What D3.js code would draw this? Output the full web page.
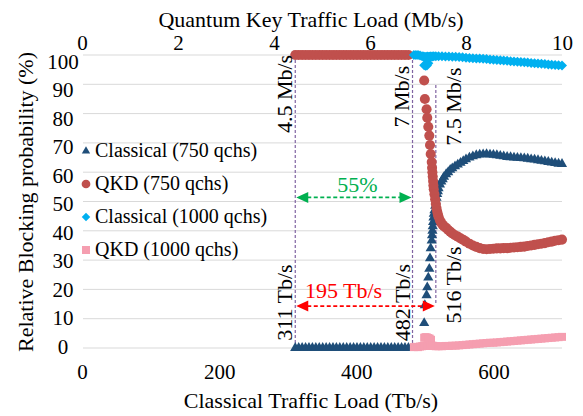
<!DOCTYPE html>
<html>
<head>
<meta charset="utf-8">
<script src="https://cdn.jsdelivr.net/npm/d3@7"></script>
<style>
  body { margin: 0; background: #fff; }
  svg text { font-family: "Liberation Serif", "DejaVu Serif", "Times New Roman", Times, serif !important; fill: #000; }
</style>
</head>
<body>
<script>
// Classical traffic load (Tb/s) for the 750-qchs runs
var loads750 = [311, 316, 321, 326, 331, 336, 341, 346, 351, 356, 361, 366, 371, 376, 381, 386, 391,
  396, 401, 406, 411, 416, 421, 426, 431, 436, 441, 446, 451, 456, 461, 466, 471, 476,
  499, 500, 502.5, 503.5, 505, 506.5, 507.5, 508.5, 510,
  510.5, 511, 511.5, 512, 512.5, 513,
  514, 515, 516, 517, 518, 519, 520,
  522, 524, 526, 528, 531, 534, 537, 540, 544, 548, 552, 556, 560,
  565, 570, 575, 580, 585, 590, 595, 600, 605, 610, 615, 620, 625, 630, 635, 640,
  645, 650, 655, 660, 665, 670, 675, 680, 685, 690, 695, 700];
var classical750 = [0, 0, 0, 0, 0, 0, 0, 0, 0, 0, 0, 0, 0, 0, 0, 0, 0,
  0, 0, 0, 0, 0, 0, 0, 0, 0, 0, 0, 0, 0, 0, 0, 0, 0,
  8.5, 14.6, 18, 20.7, 24, 27, 30.6, 34, 36.7,
  38.5, 40, 41.5, 43, 44.5, 45.8,
  47, 48.5, 50, 51.3, 52.5, 53.5, 54.5,
  55.8, 56.8, 57.6, 58.4, 59.3, 60, 60.8, 61.3, 62, 62.6, 63.2, 63.8, 64.4,
  65, 65.4, 65.8, 66, 66.1, 66.2, 66, 65.9, 65.8, 65.6, 65.4, 65.2, 65.1, 65, 64.9, 64.8,
  64.7, 64.6, 64.4, 64.3, 64.1, 63.9, 63.7, 63.5, 63.3, 63.1, 62.9, 62.8];
var qkd750 = [100, 100, 100, 100, 100, 100, 100, 100, 100, 100, 100, 100, 100, 100, 100, 100, 100,
  100, 100, 100, 100, 100, 100, 100, 100, 100, 100, 100, 100, 100, 100, 100, 100, 100,
  91.3, 85, 81.5, 78.6, 75.5, 72.5, 69.3, 66.2, 63.5,
  61.5, 60, 58.5, 57, 55.5, 54.2,
  52.5, 50.8, 49.2, 47.8, 46.6, 45.6, 44.8,
  43.6, 42.7, 42, 41.5, 41, 40.3, 39.7, 39.1, 38.5, 38, 37.4, 36.9, 36.3,
  35.6, 35, 34.5, 34.1, 33.8, 33.7, 33.8, 33.9, 34, 34, 34.1, 34.1, 34.2, 34.3, 34.4, 34.5,
  34.6, 34.8, 35, 35.2, 35.4, 35.6, 35.8, 36.1, 36.3, 36.6, 36.8, 37];

// Classical traffic load (Tb/s) for the 1000-qchs runs
var loads1000 = [484, 487, 490, 493, 496,
  498, 499, 500, 501, 502, 503, 504, 505, 506, 507, 508, 509,
  511, 513, 516,
  520, 525, 530, 535, 540, 545, 550, 555, 560, 565, 570, 575, 580, 585, 590, 595, 600,
  605, 610, 615, 620, 625, 630, 635, 640, 645, 650, 655, 660, 665, 670, 675, 680, 685,
  690, 695, 700];
var classical1000 = [100, 100, 100, 99.8, 99.6,
  99.5, 96.5, 99.4, 96.3, 99.4, 96.4, 99.5, 97.2, 99.4, 99.4, 99.5, 99.5,
  99.5, 99.6, 99.6,
  99.6, 99.6, 99.5, 99.5, 99.4, 99.4, 99.3, 99.2, 99.1, 99, 98.9, 98.8, 98.8, 98.7, 98.6, 98.5, 98.4,
  98.3, 98.2, 98.1, 98, 97.9, 97.8, 97.7, 97.6, 97.5, 97.4, 97.3, 97.2, 97.1, 97, 96.9, 96.8, 96.7,
  96.6, 96.5, 96.4];
var qkd1000 = [0.3, 0.4, 0.3, 0.5, 0.6,
  0.7, 3.5, 0.8, 3.7, 0.8, 3.6, 0.7, 3.4, 0.8, 3.2, 0.7, 2.8,
  0.8, 0.7, 0.6,
  0.6, 0.6, 0.7, 0.7, 0.8, 0.8, 0.9, 1, 1.1, 1.2, 1.3, 1.4, 1.5, 1.6, 1.7, 1.8, 1.8,
  1.9, 2, 2.1, 2.2, 2.3, 2.4, 2.5, 2.6, 2.7, 2.8, 2.9, 3, 3.1, 3.2, 3.3, 3.4, 3.5,
  3.6, 3.7, 3.8];

var seriesNames = ["Classical (750 qchs)", "QKD (750 qchs)", "Classical (1000 qchs)", "QKD (1000 qchs)"];
var seriesColors = ["#1F4E79", "#C0504D", "#00B0F0", "#F59EB0"];

var bottomTicks = [0, 200, 400, 600];
var topTicks = [0, 2, 4, 6, 8, 10];
var yTicks = [0, 10, 20, 30, 40, 50, 60, 70, 80, 90, 100];

// threshold markers
var markLoads = [311, 482, 516];
var markTb = ["311 Tb/s", "482 Tb/s", "516 Tb/s"];
var markMb = ["4.5 Mb/s", "7 Mb/s", "7.5 Mb/s"];
var markTop = [98.3, 98.3, 89.8];
var markBottom = [1.7, 1.7, 15.4];

var width = 583, height = 416;
var serif = '"Liberation Serif", "DejaVu Serif", "Times New Roman", Times, serif';

var svg = d3.select("body").append("svg")
  .attr("width", width)
  .attr("height", height)
  .attr("font-family", serif);

var x = d3.scaleLinear().domain([0, 700]).range([82, 562]);
var xTop = d3.scaleLinear().domain([0, 10]).range([82, 562]);
var y = d3.scaleLinear().domain([0, 100]).range([348, 55]);
var yLab = d3.scaleLinear().domain([0, 100]).range([346.5, 61.5]);

// gridlines
svg.append("g").selectAll("line")
  .data(yTicks)
  .enter().append("line")
    .attr("x1", 83).attr("x2", 562)
    .attr("y1", function (d) { return y(d); })
    .attr("y2", function (d) { return y(d); })
    .style("stroke", "#d9d9d9")
    .style("stroke-width", 1);

// axes (labels only)
var yAxis = svg.append("g")
  .attr("transform", "translate(63,0)")
  .call(d3.axisLeft(yLab).tickValues(yTicks).tickSize(0).tickPadding(0));
yAxis.attr("font-family", serif).attr("font-size", 21);
yAxis.select(".domain").remove();
yAxis.selectAll("text")
  .attr("x", 0)
  .style("text-anchor", "middle");

var xAxis = svg.append("g")
  .attr("transform", "translate(0,379)")
  .call(d3.axisBottom(x).tickValues(bottomTicks).tickSize(0).tickPadding(0));
xAxis.attr("font-family", serif).attr("font-size", 21);
xAxis.select(".domain").remove();
xAxis.selectAll("text").attr("y", 0).attr("dy", 0);

var xAxisTop = svg.append("g")
  .attr("transform", "translate(0,50)")
  .call(d3.axisTop(xTop).tickValues(topTicks).tickSize(0).tickPadding(0));
xAxisTop.attr("font-family", serif).attr("font-size", 21);
xAxisTop.select(".domain").remove();
xAxisTop.selectAll("text").attr("y", 0).attr("dy", 0);

// axis titles
svg.append("text")
  .attr("x", 311).attr("y", 408)
  .attr("text-anchor", "middle")
  .style("font-size", "22px")
  .text("Classical Traffic Load (Tb/s)");

svg.append("text")
  .attr("x", 311).attr("y", 27)
  .attr("text-anchor", "middle")
  .style("font-size", "22px")
  .text("Quantum Key Traffic Load (Mb/s)");

svg.append("text")
  .attr("transform", "translate(33,202) rotate(-90)")
  .attr("text-anchor", "middle")
  .style("font-size", "22px")
  .text("Relative Blocking probability (%)");

// threshold dashed lines
var marks = svg.append("g").attr("class", "marks");
markLoads.forEach(function (m, i) {
  marks.append("line")
    .attr("x1", x(m)).attr("x2", x(m))
    .attr("y1", y(markTop[i])).attr("y2", y(markBottom[i]))
    .style("stroke", "#8064A2")
    .style("stroke-width", 1.2)
    .style("stroke-dasharray", "3,2");
});

// series
var symTri = d3.symbol().type(d3.symbolTriangle);
var symCircle = d3.symbol().type(d3.symbolCircle);
var symSquare = d3.symbol().type(d3.symbolSquare);

function drawSeries(loads, vals, color, path, rot) {
  var pts = loads.map(function (l, i) { return [l, vals[i]]; });
  svg.append("g").selectAll("path")
    .data(pts)
    .enter().append("path")
      .attr("d", path)
      .attr("transform", function (d) {
        return "translate(" + x(d[0]) + "," + y(d[1]) + ")" + (rot ? " rotate(45)" : "");
      })
      .style("fill", color);
}

drawSeries(loads750, classical750, seriesColors[0], symTri.size(45)());
drawSeries(loads750, qkd750, seriesColors[1], symCircle.size(80)());
drawSeries(loads1000, classical1000, seriesColors[2], symSquare.size(50)(), true);
drawSeries(loads1000, qkd1000, seriesColors[3], symSquare.size(64)());

// rotated threshold labels
var mbOffset = [-3, -4, 25];
var mbCenter = [86.7, 85.8, 82.4];
var tbOffset = [-3, -3, 25];
var tbCenter = [15.5, 15.5, 21.5];
markLoads.forEach(function (m, i) {
  svg.append("text")
    .attr("transform", "translate(" + (x(m) + mbOffset[i]) + "," + y(mbCenter[i]) + ") rotate(-90)")
    .attr("text-anchor", "middle")
    .style("font-size", "22px")
    .text(markMb[i]);
  svg.append("text")
    .attr("transform", "translate(" + (x(m) + tbOffset[i]) + "," + y(tbCenter[i]) + ") rotate(-90)")
    .attr("text-anchor", "middle")
    .style("font-size", "22px")
    .text(markTb[i]);
});

// double-headed arrows
function arrow(from, to, level, color, label, labelX, labelLevel) {
  var x0 = x(from) + 1, x1 = x(to) - 1, yy = y(level);
  var hl = 12, hw = 5.5;
  svg.append("line")
    .attr("x1", x0 + hl - 1).attr("x2", x1 - hl + 1)
    .attr("y1", yy).attr("y2", yy)
    .style("stroke", color)
    .style("stroke-width", 1.6)
    .style("stroke-dasharray", "4,2.5");
  svg.append("path")
    .attr("d", "M" + x0 + "," + yy + "L" + (x0 + hl) + "," + (yy - hw) + "L" + (x0 + hl) + "," + (yy + hw) + "Z")
    .style("fill", color);
  svg.append("path")
    .attr("d", "M" + x1 + "," + yy + "L" + (x1 - hl) + "," + (yy - hw) + "L" + (x1 - hl) + "," + (yy + hw) + "Z")
    .style("fill", color);
  svg.append("text")
    .attr("x", labelX).attr("y", y(labelLevel))
    .attr("text-anchor", "middle")
    .style("font-size", "22px")
    .style("fill", color)
    .text(label);
}

arrow(311, 482, 51.4, "#00B050", "55%", 357.5, 53.4);
arrow(311, 516, 14.3, "#FF0000", "195 Tb/s", 343.5, 17.1);

// legend
var legendY = [157, 190, 223, 256];
var legendSyms = [
  symTri.size(30)(), symCircle.size(60)(), symSquare.size(36)(), symSquare.size(64)()
];
var legend = svg.append("g").attr("class", "legend");
seriesNames.forEach(function (name, i) {
  legend.append("path")
    .attr("d", legendSyms[i])
    .attr("transform", "translate(86," + (legendY[i] - 6) + ")" + (i === 2 ? " rotate(45)" : ""))
    .style("fill", seriesColors[i]);
  legend.append("text")
    .attr("x", 95).attr("y", legendY[i])
    .style("font-size", "20px")
    .text(name);
});
</script>
</body>
</html>
